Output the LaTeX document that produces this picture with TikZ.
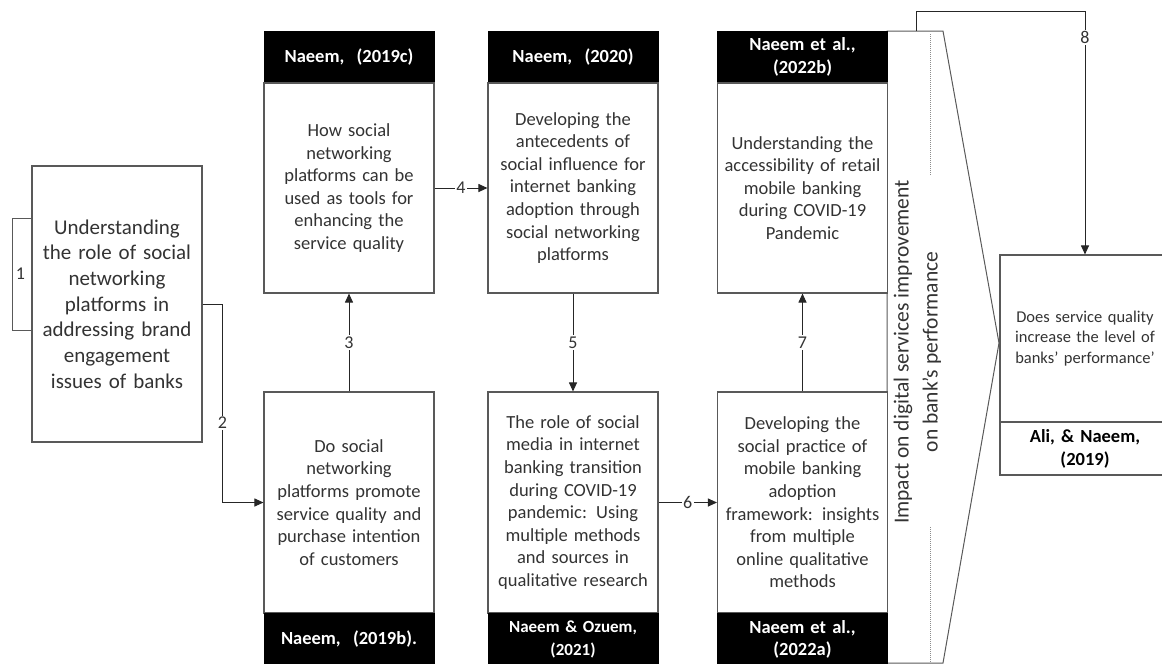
\documentclass[tikz,border=0pt]{standalone}
\usepackage{fontspec}
\setmainfont{Carlito}
\usetikzlibrary{arrows.meta}
\begin{document}
\begin{tikzpicture}[x=1pt,y=-1pt]
\tikzset{
  edge/.style={draw=black!65, line width=1.1pt},
  body/.style={edge, fill=white, text=black!80, align=center, inner xsep=1pt, inner ysep=0pt,
    text width=168pt, font=\fontsize{18.5}{22.6}\selectfont},
  headblk/.style={fill=black, draw=black, text=white, align=center, inner xsep=1pt, inner ysep=0pt,
    text width=168pt, font=\bfseries\fontsize{18.5}{22.6}\selectfont},
  conn/.style={draw=black!85, line width=1pt, -{Triangle[length=9pt,width=8pt]}},
  lbl/.style={fill=white, inner sep=1.5pt, text=black!80, font=\fontsize{18}{20}\selectfont},
}
\useasboundingbox (0,0) rectangle (1162,664);
\clip (0,0) rectangle (1162,664);

% outline of the wide arrow on the right
\draw[edge, line width=1pt] (887,31) -- (943,31) -- (999,343) -- (943,663) -- (887,663) -- cycle;
\draw[black!45, line width=0.9pt, dash pattern=on 1pt off 1pt] (930,34) -- (930,175);
\draw[black!45, line width=0.9pt, dash pattern=on 1pt off 1pt] (930,527) -- (930,663);
\node[rotate=90, align=center, text=black!80, inner sep=0pt,
      font=\fontsize{21.5}{29}\selectfont] (T) at (917.5,352)
  {Impact on digital services improvement\\on bank’s performance};

% left box
\node[body, font=\fontsize{21}{25.7}\selectfont, minimum height=276] (L) at (117,304)
  {Understanding\\the role of social\\networking\\platforms in\\addressing brand\\engagement\\issues of banks};

% top row
\node[headblk, minimum height=52] (Ah) at (349,57) {Naeem,~ (2019c)};
\node[body, minimum height=210] (A) at (349,188)
  {How social\\networking\\platforms can be\\used as tools for\\enhancing the\\service quality};
\node[headblk, minimum height=52] (Ch) at (573,57) {Naeem,~ (2020)};
\node[body, minimum height=210] (C) at (573,188)
  {Developing the\\antecedents of\\social influence for\\internet banking\\adoption through\\social networking\\platforms};
\node[headblk, minimum height=52] (Fh) at (802.5,57) {Naeem et al.,\\(2022b)};
\node[body, minimum height=210] (F) at (802.5,188)
  {Understanding the\\accessibility of retail\\mobile banking\\during COVID-19\\Pandemic};

% bottom row
\node[body, minimum height=221] (B) at (349,502.5)
  {Do social\\networking\\platforms promote\\service quality and\\purchase intention\\of customers};
\node[headblk, minimum height=53] (Bh) at (349,639.5) {Naeem,~ (2019b).};
\node[body, minimum height=221] (D) at (573,502.5)
  {The role of social\\media in internet\\banking transition\\during COVID-19\\pandemic: Using\\multiple methods\\and sources in\\qualitative research};
\node[headblk, minimum height=53, font=\bfseries\fontsize{17}{22.6}\selectfont] (Dh) at (573,639.5) {Naeem \& Ozuem,\\(2021)};
\node[body, minimum height=221] (E) at (802.5,502.5)
  {Developing the\\social practice of\\mobile banking\\adoption\\framework: insights\\from multiple\\online qualitative\\methods};
\node[headblk, minimum height=53] (Eh) at (802.5,639.5) {Naeem et al.,\\(2022a)};

% right box
\node[body, minimum height=167, font=\fontsize{16.5}{20.5}\selectfont] (G) at (1085,338.5)
  {Does service quality\\increase the level of\\banks’ performance’};
\node[body, minimum height=53, text=black, font=\bfseries\fontsize{18.5}{23}\selectfont] (Gh) at (1085,448.5)
  {Ali, \& Naeem,\\(2019)};

% connectors
\draw[edge, line width=1pt] ([yshift=86pt]L.west) -- ++(-19,0) |- node[pos=0.25, right, text=black!80, inner sep=3pt, font=\fontsize{18}{20}\selectfont] {1} ([yshift=-26pt]L.west);
\draw[conn] (L.east) -- ++(20,0) |- node[lbl, pos=0.3] {2} (B.west);
\draw[conn] (B.north) -- node[lbl] {3} (A.south);
\draw[conn] (A.east) -- node[lbl] {4} (C.west);
\draw[conn] (C.south) -- node[lbl] {5} (D.north);
\draw[conn] (D.east) -- node[lbl] {6} (E.west);
\draw[conn] (E.north) -- node[lbl] {7} (F.south);
\coordinate (s8) at (916,31);
\draw[conn] (s8) -- ++(0,-20) -| node[lbl, pos=0.555] {8} (G.north);
\end{tikzpicture}
\end{document}
